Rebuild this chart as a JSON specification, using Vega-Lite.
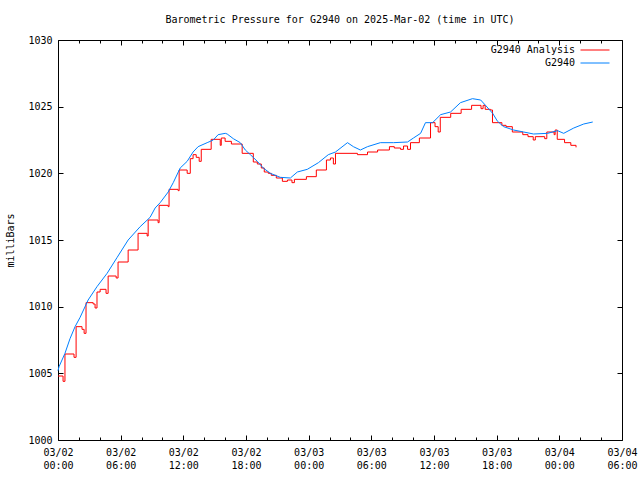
{
  "$schema": "https://vega.github.io/schema/vega-lite/v6.json",
  "width": 564,
  "height": 400,
  "autosize": {"type": "none"},
  "padding": {"left": 58, "top": 40, "right": 18, "bottom": 40},
  "background": "white",
  "title": {"text": "Barometric Pressure for G2940 on 2025-Mar-02 (time in UTC)", "font": "DejaVu Sans Mono", "fontSize": 10, "fontWeight": "normal", "color": "black", "anchor": "middle", "offset": 10},
  "config": {
    "view": {"stroke": "black", "strokeWidth": 1},
    "axis": {"labelFont": "DejaVu Sans Mono", "labelFontSize": 10, "labelColor": "black", "tickColor": "black", "domain": false, "grid": false, "titleFont": "DejaVu Sans Mono", "titleFontSize": 10, "titleFontWeight": "normal", "titleColor": "black", "labelFlush": false, "labelOverlap": false, "tickSize": -5},
    "legend": {"labelFont": "DejaVu Sans Mono", "labelFontSize": 10, "labelColor": "black"}
  },
  "datasets": {"pts": [
    {"t": "2025-03-02T00:00:00Z", "s": "G2940 Analysis", "p": 1004.8},
    {"t": "2025-03-02T00:29:00Z", "s": "G2940 Analysis", "p": 1004.4},
    {"t": "2025-03-02T00:40:00Z", "s": "G2940 Analysis", "p": 1006.45},
    {"t": "2025-03-02T01:32:00Z", "s": "G2940 Analysis", "p": 1006.2},
    {"t": "2025-03-02T01:44:00Z", "s": "G2940 Analysis", "p": 1008.5},
    {"t": "2025-03-02T02:18:00Z", "s": "G2940 Analysis", "p": 1008.3},
    {"t": "2025-03-02T02:30:00Z", "s": "G2940 Analysis", "p": 1008.0},
    {"t": "2025-03-02T02:41:00Z", "s": "G2940 Analysis", "p": 1010.3},
    {"t": "2025-03-02T03:22:00Z", "s": "G2940 Analysis", "p": 1010.2},
    {"t": "2025-03-02T03:33:00Z", "s": "G2940 Analysis", "p": 1009.9},
    {"t": "2025-03-02T03:44:00Z", "s": "G2940 Analysis", "p": 1011.1},
    {"t": "2025-03-02T04:02:00Z", "s": "G2940 Analysis", "p": 1011.3},
    {"t": "2025-03-02T04:36:00Z", "s": "G2940 Analysis", "p": 1011.0},
    {"t": "2025-03-02T04:48:00Z", "s": "G2940 Analysis", "p": 1012.3},
    {"t": "2025-03-02T05:34:00Z", "s": "G2940 Analysis", "p": 1012.15},
    {"t": "2025-03-02T05:45:00Z", "s": "G2940 Analysis", "p": 1013.35},
    {"t": "2025-03-02T06:43:00Z", "s": "G2940 Analysis", "p": 1014.25},
    {"t": "2025-03-02T07:40:00Z", "s": "G2940 Analysis", "p": 1015.5},
    {"t": "2025-03-02T08:32:00Z", "s": "G2940 Analysis", "p": 1015.3},
    {"t": "2025-03-02T08:38:00Z", "s": "G2940 Analysis", "p": 1016.5},
    {"t": "2025-03-02T09:35:00Z", "s": "G2940 Analysis", "p": 1016.3},
    {"t": "2025-03-02T09:41:00Z", "s": "G2940 Analysis", "p": 1017.6},
    {"t": "2025-03-02T10:33:00Z", "s": "G2940 Analysis", "p": 1017.5},
    {"t": "2025-03-02T10:38:00Z", "s": "G2940 Analysis", "p": 1018.8},
    {"t": "2025-03-02T11:30:00Z", "s": "G2940 Analysis", "p": 1018.7},
    {"t": "2025-03-02T11:36:00Z", "s": "G2940 Analysis", "p": 1020.25},
    {"t": "2025-03-02T12:22:00Z", "s": "G2940 Analysis", "p": 1020.0},
    {"t": "2025-03-02T12:40:00Z", "s": "G2940 Analysis", "p": 1021.1},
    {"t": "2025-03-02T12:56:00Z", "s": "G2940 Analysis", "p": 1021.4},
    {"t": "2025-03-02T13:14:00Z", "s": "G2940 Analysis", "p": 1021.2},
    {"t": "2025-03-02T13:31:00Z", "s": "G2940 Analysis", "p": 1020.9},
    {"t": "2025-03-02T13:43:00Z", "s": "G2940 Analysis", "p": 1021.8},
    {"t": "2025-03-02T14:40:00Z", "s": "G2940 Analysis", "p": 1022.55},
    {"t": "2025-03-02T15:32:00Z", "s": "G2940 Analysis", "p": 1022.1},
    {"t": "2025-03-02T15:38:00Z", "s": "G2940 Analysis", "p": 1022.65},
    {"t": "2025-03-02T16:00:00Z", "s": "G2940 Analysis", "p": 1022.4},
    {"t": "2025-03-02T16:36:00Z", "s": "G2940 Analysis", "p": 1022.2},
    {"t": "2025-03-02T17:38:00Z", "s": "G2940 Analysis", "p": 1021.5},
    {"t": "2025-03-02T18:42:00Z", "s": "G2940 Analysis", "p": 1020.85},
    {"t": "2025-03-02T19:05:00Z", "s": "G2940 Analysis", "p": 1020.7},
    {"t": "2025-03-02T19:28:00Z", "s": "G2940 Analysis", "p": 1020.4},
    {"t": "2025-03-02T19:45:00Z", "s": "G2940 Analysis", "p": 1020.1},
    {"t": "2025-03-02T20:08:00Z", "s": "G2940 Analysis", "p": 1020.0},
    {"t": "2025-03-02T20:25:00Z", "s": "G2940 Analysis", "p": 1019.85},
    {"t": "2025-03-02T20:54:00Z", "s": "G2940 Analysis", "p": 1019.65},
    {"t": "2025-03-02T21:29:00Z", "s": "G2940 Analysis", "p": 1019.4},
    {"t": "2025-03-02T21:58:00Z", "s": "G2940 Analysis", "p": 1019.5},
    {"t": "2025-03-02T22:24:00Z", "s": "G2940 Analysis", "p": 1019.3},
    {"t": "2025-03-02T22:38:00Z", "s": "G2940 Analysis", "p": 1019.55},
    {"t": "2025-03-02T23:47:00Z", "s": "G2940 Analysis", "p": 1019.75},
    {"t": "2025-03-03T00:44:00Z", "s": "G2940 Analysis", "p": 1020.25},
    {"t": "2025-03-03T01:42:00Z", "s": "G2940 Analysis", "p": 1021.0},
    {"t": "2025-03-03T02:05:00Z", "s": "G2940 Analysis", "p": 1021.15},
    {"t": "2025-03-03T02:22:00Z", "s": "G2940 Analysis", "p": 1020.7},
    {"t": "2025-03-03T02:34:00Z", "s": "G2940 Analysis", "p": 1021.5},
    {"t": "2025-03-03T04:40:00Z", "s": "G2940 Analysis", "p": 1021.4},
    {"t": "2025-03-03T05:38:00Z", "s": "G2940 Analysis", "p": 1021.6},
    {"t": "2025-03-03T06:36:00Z", "s": "G2940 Analysis", "p": 1021.75},
    {"t": "2025-03-03T07:44:00Z", "s": "G2940 Analysis", "p": 1022.0},
    {"t": "2025-03-03T08:12:00Z", "s": "G2940 Analysis", "p": 1021.9},
    {"t": "2025-03-03T08:48:00Z", "s": "G2940 Analysis", "p": 1021.8},
    {"t": "2025-03-03T09:05:00Z", "s": "G2940 Analysis", "p": 1022.05},
    {"t": "2025-03-03T09:28:00Z", "s": "G2940 Analysis", "p": 1021.8},
    {"t": "2025-03-03T09:45:00Z", "s": "G2940 Analysis", "p": 1022.3},
    {"t": "2025-03-03T10:36:00Z", "s": "G2940 Analysis", "p": 1022.65},
    {"t": "2025-03-03T11:40:00Z", "s": "G2940 Analysis", "p": 1023.8},
    {"t": "2025-03-03T12:06:00Z", "s": "G2940 Analysis", "p": 1023.5},
    {"t": "2025-03-03T12:24:00Z", "s": "G2940 Analysis", "p": 1023.1},
    {"t": "2025-03-03T12:36:00Z", "s": "G2940 Analysis", "p": 1024.2},
    {"t": "2025-03-03T13:36:00Z", "s": "G2940 Analysis", "p": 1024.5},
    {"t": "2025-03-03T14:36:00Z", "s": "G2940 Analysis", "p": 1024.8},
    {"t": "2025-03-03T15:36:00Z", "s": "G2940 Analysis", "p": 1025.1},
    {"t": "2025-03-03T16:30:00Z", "s": "G2940 Analysis", "p": 1024.85},
    {"t": "2025-03-03T16:42:00Z", "s": "G2940 Analysis", "p": 1025.1},
    {"t": "2025-03-03T16:54:00Z", "s": "G2940 Analysis", "p": 1024.8},
    {"t": "2025-03-03T17:24:00Z", "s": "G2940 Analysis", "p": 1024.75},
    {"t": "2025-03-03T17:36:00Z", "s": "G2940 Analysis", "p": 1023.8},
    {"t": "2025-03-03T18:30:00Z", "s": "G2940 Analysis", "p": 1023.6},
    {"t": "2025-03-03T18:54:00Z", "s": "G2940 Analysis", "p": 1023.5},
    {"t": "2025-03-03T19:30:00Z", "s": "G2940 Analysis", "p": 1023.1},
    {"t": "2025-03-03T20:30:00Z", "s": "G2940 Analysis", "p": 1022.9},
    {"t": "2025-03-03T21:00:00Z", "s": "G2940 Analysis", "p": 1022.75},
    {"t": "2025-03-03T21:30:00Z", "s": "G2940 Analysis", "p": 1022.5},
    {"t": "2025-03-03T21:42:00Z", "s": "G2940 Analysis", "p": 1022.75},
    {"t": "2025-03-03T22:36:00Z", "s": "G2940 Analysis", "p": 1022.6},
    {"t": "2025-03-03T22:48:00Z", "s": "G2940 Analysis", "p": 1023.1},
    {"t": "2025-03-03T23:30:00Z", "s": "G2940 Analysis", "p": 1022.9},
    {"t": "2025-03-03T23:36:00Z", "s": "G2940 Analysis", "p": 1023.25},
    {"t": "2025-03-03T23:48:00Z", "s": "G2940 Analysis", "p": 1022.55},
    {"t": "2025-03-04T00:30:00Z", "s": "G2940 Analysis", "p": 1022.3},
    {"t": "2025-03-04T01:06:00Z", "s": "G2940 Analysis", "p": 1022.1},
    {"t": "2025-03-04T01:36:00Z", "s": "G2940 Analysis", "p": 1021.95},
    {"t": "2025-03-02T00:00:00Z", "s": "G2940", "p": 1005.2},
    {"t": "2025-03-02T00:06:00Z", "s": "G2940", "p": 1005.5},
    {"t": "2025-03-02T00:23:00Z", "s": "G2940", "p": 1006.0},
    {"t": "2025-03-02T00:40:00Z", "s": "G2940", "p": 1006.5},
    {"t": "2025-03-02T01:09:00Z", "s": "G2940", "p": 1007.6},
    {"t": "2025-03-02T01:38:00Z", "s": "G2940", "p": 1008.5},
    {"t": "2025-03-02T02:07:00Z", "s": "G2940", "p": 1009.2},
    {"t": "2025-03-02T02:53:00Z", "s": "G2940", "p": 1010.5},
    {"t": "2025-03-02T03:44:00Z", "s": "G2940", "p": 1011.5},
    {"t": "2025-03-02T04:42:00Z", "s": "G2940", "p": 1012.5},
    {"t": "2025-03-02T05:40:00Z", "s": "G2940", "p": 1013.7},
    {"t": "2025-03-02T06:43:00Z", "s": "G2940", "p": 1015.0},
    {"t": "2025-03-02T07:52:00Z", "s": "G2940", "p": 1016.0},
    {"t": "2025-03-02T08:49:00Z", "s": "G2940", "p": 1016.7},
    {"t": "2025-03-02T09:18:00Z", "s": "G2940", "p": 1017.4},
    {"t": "2025-03-02T09:47:00Z", "s": "G2940", "p": 1017.8},
    {"t": "2025-03-02T10:33:00Z", "s": "G2940", "p": 1018.6},
    {"t": "2025-03-02T11:02:00Z", "s": "G2940", "p": 1019.3},
    {"t": "2025-03-02T11:42:00Z", "s": "G2940", "p": 1020.4},
    {"t": "2025-03-02T12:22:00Z", "s": "G2940", "p": 1020.9},
    {"t": "2025-03-02T12:56:00Z", "s": "G2940", "p": 1021.6},
    {"t": "2025-03-02T13:25:00Z", "s": "G2940", "p": 1022.0},
    {"t": "2025-03-02T14:17:00Z", "s": "G2940", "p": 1022.3},
    {"t": "2025-03-02T14:52:00Z", "s": "G2940", "p": 1022.5},
    {"t": "2025-03-02T15:20:00Z", "s": "G2940", "p": 1022.9},
    {"t": "2025-03-02T16:01:00Z", "s": "G2940", "p": 1023.0},
    {"t": "2025-03-02T16:12:00Z", "s": "G2940", "p": 1022.95},
    {"t": "2025-03-02T16:47:00Z", "s": "G2940", "p": 1022.6},
    {"t": "2025-03-02T17:27:00Z", "s": "G2940", "p": 1022.3},
    {"t": "2025-03-02T17:56:00Z", "s": "G2940", "p": 1021.75},
    {"t": "2025-03-02T18:25:00Z", "s": "G2940", "p": 1021.4},
    {"t": "2025-03-02T19:05:00Z", "s": "G2940", "p": 1020.9},
    {"t": "2025-03-02T19:39:00Z", "s": "G2940", "p": 1020.4},
    {"t": "2025-03-02T20:20:00Z", "s": "G2940", "p": 1020.0},
    {"t": "2025-03-02T21:17:00Z", "s": "G2940", "p": 1019.7},
    {"t": "2025-03-02T22:15:00Z", "s": "G2940", "p": 1019.65},
    {"t": "2025-03-02T22:55:00Z", "s": "G2940", "p": 1020.1},
    {"t": "2025-03-02T23:52:00Z", "s": "G2940", "p": 1020.3},
    {"t": "2025-03-03T00:56:00Z", "s": "G2940", "p": 1020.8},
    {"t": "2025-03-03T01:53:00Z", "s": "G2940", "p": 1021.4},
    {"t": "2025-03-03T02:34:00Z", "s": "G2940", "p": 1021.6},
    {"t": "2025-03-03T03:43:00Z", "s": "G2940", "p": 1022.3},
    {"t": "2025-03-03T04:17:00Z", "s": "G2940", "p": 1022.0},
    {"t": "2025-03-03T04:57:00Z", "s": "G2940", "p": 1021.75},
    {"t": "2025-03-03T05:38:00Z", "s": "G2940", "p": 1022.0},
    {"t": "2025-03-03T06:52:00Z", "s": "G2940", "p": 1022.3},
    {"t": "2025-03-03T08:07:00Z", "s": "G2940", "p": 1022.3},
    {"t": "2025-03-03T09:28:00Z", "s": "G2940", "p": 1022.35},
    {"t": "2025-03-03T10:02:00Z", "s": "G2940", "p": 1022.65},
    {"t": "2025-03-03T10:43:00Z", "s": "G2940", "p": 1023.0},
    {"t": "2025-03-03T11:11:00Z", "s": "G2940", "p": 1023.8},
    {"t": "2025-03-03T11:52:00Z", "s": "G2940", "p": 1023.8},
    {"t": "2025-03-03T12:38:00Z", "s": "G2940", "p": 1024.4},
    {"t": "2025-03-03T13:35:00Z", "s": "G2940", "p": 1024.6},
    {"t": "2025-03-03T14:32:00Z", "s": "G2940", "p": 1025.3},
    {"t": "2025-03-03T15:41:00Z", "s": "G2940", "p": 1025.6},
    {"t": "2025-03-03T16:28:00Z", "s": "G2940", "p": 1025.5},
    {"t": "2025-03-03T16:56:00Z", "s": "G2940", "p": 1025.1},
    {"t": "2025-03-03T17:37:00Z", "s": "G2940", "p": 1024.5},
    {"t": "2025-03-03T18:05:00Z", "s": "G2940", "p": 1023.9},
    {"t": "2025-03-03T18:40:00Z", "s": "G2940", "p": 1023.5},
    {"t": "2025-03-03T19:37:00Z", "s": "G2940", "p": 1023.25},
    {"t": "2025-03-03T20:35:00Z", "s": "G2940", "p": 1023.1},
    {"t": "2025-03-03T21:32:00Z", "s": "G2940", "p": 1022.95},
    {"t": "2025-03-03T22:53:00Z", "s": "G2940", "p": 1023.0},
    {"t": "2025-03-03T23:50:00Z", "s": "G2940", "p": 1023.2},
    {"t": "2025-03-04T00:25:00Z", "s": "G2940", "p": 1023.0},
    {"t": "2025-03-04T01:23:00Z", "s": "G2940", "p": 1023.4},
    {"t": "2025-03-04T02:20:00Z", "s": "G2940", "p": 1023.7},
    {"t": "2025-03-04T03:12:00Z", "s": "G2940", "p": 1023.85}
  ]},
  "data": {"name": "pts"},
  "resolve": {"axis": {"x": "independent", "y": "independent"}},
  "layer": [
    {
      "transform": [{"filter": "datum.s === 'G2940 Analysis'"}],
      "mark": {"type": "line", "interpolate": "step-after", "strokeWidth": 1},
      "encoding": {
        "x": {"field": "t", "type": "temporal",
          "scale": {"type": "utc", "domain": [1740873600000, 1741068000000], "nice": false},
          "axis": {"orient": "bottom", "title": null,
            "values": [1740873600000, 1740895200000, 1740916800000, 1740938400000, 1740960000000, 1740981600000, 1741003200000, 1741024800000, 1741046400000, 1741068000000],
            "labelPadding": 12, "labelLineHeight": 13, "labelBaseline": "top",
            "labelExpr": "[utcFormat(datum.value, '%m/%d'), utcFormat(datum.value, '%H:%M')]"}},
        "y": {"field": "p", "type": "quantitative",
          "scale": {"domain": [1000, 1030], "nice": false, "zero": false},
          "axis": {"orient": "left", "title": "milliBars", "values": [1000, 1005, 1010, 1015, 1020, 1025, 1030], "labelPadding": 11, "titlePadding": 12, "format": "d"}},
        "color": {"field": "s", "type": "nominal",
          "scale": {"domain": ["G2940 Analysis", "G2940"], "range": ["#ff0000", "#0080ff"]},
          "legend": {"orient": "none", "legendX": 532, "legendY": 5, "title": null, "symbolType": "M-7.25,0H7.25", "symbolSize": 16, "symbolStrokeWidth": 1, "labelAlign": "right", "labelOffset": -25, "rowPadding": 3, "padding": 0}}
      }
    },
    {
      "transform": [{"filter": "datum.s === 'G2940'"}],
      "mark": {"type": "line", "strokeWidth": 1},
      "encoding": {
        "x": {"field": "t", "type": "temporal",
          "axis": {"orient": "top", "title": null, "labels": false,
            "values": [1740873600000, 1740895200000, 1740916800000, 1740938400000, 1740960000000, 1740981600000, 1741003200000, 1741024800000, 1741046400000, 1741068000000]}},
        "y": {"field": "p", "type": "quantitative",
          "axis": {"orient": "right", "title": null, "labels": false, "values": [1000, 1005, 1010, 1015, 1020, 1025, 1030]}},
        "color": {"field": "s", "type": "nominal"}
      }
    },
    {
      "transform": [{"filter": "datum.s === 'G2940'"}],
      "mark": {"type": "line", "strokeWidth": 1, "opacity": 0},
      "encoding": {
        "x": {"field": "t", "type": "temporal",
          "axis": {"orient": "bottom", "title": null, "labels": false, "tickSize": -3,
            "values": [1740880800000, 1740888000000, 1740902400000, 1740909600000, 1740924000000, 1740931200000, 1740945600000, 1740952800000, 1740967200000, 1740974400000, 1740988800000, 1740996000000, 1741010400000, 1741017600000, 1741032000000, 1741039200000, 1741053600000, 1741060800000]}},
        "y": {"field": "p", "type": "quantitative", "axis": null}
      }
    },
    {
      "transform": [{"filter": "datum.s === 'G2940'"}],
      "mark": {"type": "line", "strokeWidth": 1, "opacity": 0},
      "encoding": {
        "x": {"field": "t", "type": "temporal",
          "axis": {"orient": "top", "title": null, "labels": false, "tickSize": -3,
            "values": [1740880800000, 1740888000000, 1740902400000, 1740909600000, 1740924000000, 1740931200000, 1740945600000, 1740952800000, 1740967200000, 1740974400000, 1740988800000, 1740996000000, 1741010400000, 1741017600000, 1741032000000, 1741039200000, 1741053600000, 1741060800000]}},
        "y": {"field": "p", "type": "quantitative", "axis": null}
      }
    }
  ]
}
